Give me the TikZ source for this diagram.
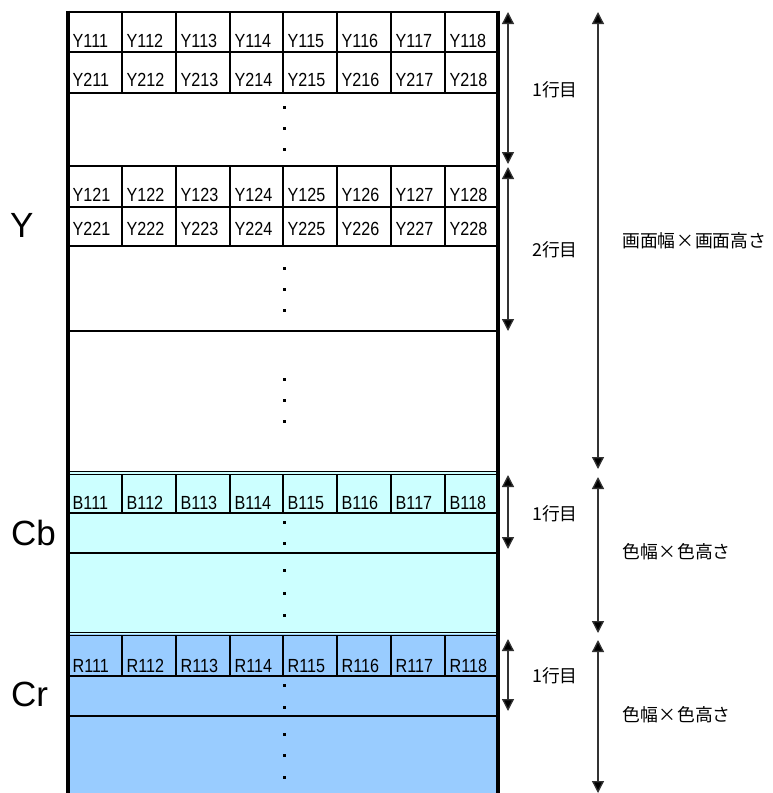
\documentclass[tikz,border=0pt]{standalone}
\usepackage{fontspec}
\setmainfont{Liberation Sans}
\newfontfamily\jpfont{Noto Sans CJK JP}
\newfontfamily\cellfont[FakeStretch=0.85]{Liberation Sans}
\usetikzlibrary{arrows.meta}
\definecolor{cbfill}{HTML}{CCFFFF}
\definecolor{crfill}{HTML}{99CCFF}
\tikzset{
  border/.style={line width=3.6pt},
  rowline/.style={line width=2.8pt},
  divline/.style={line width=2.5pt},
  dblline/.style={line width=1.5pt},
  celltext/.style={anchor=base west, inner sep=0pt, font=\cellfont\fontsize{19}{19}\selectfont},
  bigtext/.style={anchor=base west, inner sep=0pt, font=\fontsize{35}{35}\selectfont},
  jptext/.style={anchor=west, inner sep=0pt, font=\jpfont\fontsize{17.8}{17.8}\selectfont},
  dimarrow/.style={line width=1.3pt, draw=black!80, {Triangle[width=12pt,length=12pt,fill=black]}-{Triangle[width=12pt,length=12pt,fill=black]}},
  dotmark/.style={fill=black}
}
\newcommand{\xmark}{\makebox[1.1em]{×}}
\begin{document}
\begin{tikzpicture}[x=1pt,y=-1pt]
\useasboundingbox (0,0) rectangle (773,793);
% fills
\fill[cbfill] (68,472) rectangle (498,634);
\fill[crfill] (68,634) rectangle (498,793);
% cell rows: top, bottom, prefix, suffix, baseline
\foreach \t/\b/\p/\s/\bl [count=\r] in {12/52/Y1/1/47, 52/93/Y2/1/86, 166/207/Y1/2/201, 207/246/Y2/2/235,
    474.5/513/B1/1/509, 635.5/676/R1/1/672} {
  \foreach \x in {122,176,230,283,337,391,445} \draw[divline] (\x,\t) -- (\x,\b);
  \foreach \x [count=\k] in {68,122,176,230,283,337,391,445}
    \node[celltext] (cell-\r-\k) at (\x+4.5,\bl) {\p\s\k};
}
% horizontal lines
\foreach \y in {12,52,93,166,207,246,331,513,553,676,716}
  \draw[rowline] (67,\y) -- (499,\y);
\foreach \y in {471.5,474.5,632.5,635.5}
  \draw[dblline] (68,\y) -- (498,\y);
% dots
\foreach \y in {107,128,149,268,289,310,379,400,421,522,543,570,593,615,685,707,734,755,777}
  \fill[dotmark] (282.8,\y-1.5) rectangle ++(3,3);
% borders
\draw[border] (68,10.5) -- (68,793);
\draw[border] (498,10.5) -- (498,793);
% left labels
\node[bigtext] (ly) at (10,237) {Y};
\node[bigtext] (lcb) at (11,545) {Cb};
\node[bigtext] (lcr) at (11,706) {Cr};
% arrow end coordinates
\coordinate (a1t) at (508,12);   \coordinate (a1b) at (508,164);
\coordinate (a2t) at (508,167);  \coordinate (a2b) at (508,331);
\coordinate (a3t) at (598,12);   \coordinate (a3b) at (598,469);
\coordinate (a4t) at (508,475);  \coordinate (a4b) at (508,549);
\coordinate (a5t) at (598,477);  \coordinate (a5b) at (598,633);
\coordinate (a6t) at (508,639);  \coordinate (a6b) at (508,711);
\coordinate (a7t) at (598,640);  \coordinate (a7b) at (598,793);
\foreach \i in {1,...,7} \draw[dimarrow] (a\i t) -- (a\i b);
% right labels
\node[jptext] (r1) at (532,90) {1行目};
\node[jptext] (r2) at (532,250) {2行目};
\node[jptext] (r3) at (622,241) {画面幅\xmark 画面高さ};
\node[jptext] (r4) at (532,514) {1行目};
\node[jptext] (r5) at (622,552) {色幅\xmark 色高さ};
\node[jptext] (r6) at (532,676) {1行目};
\node[jptext] (r7) at (622,715) {色幅\xmark 色高さ};
\end{tikzpicture}
\end{document}
